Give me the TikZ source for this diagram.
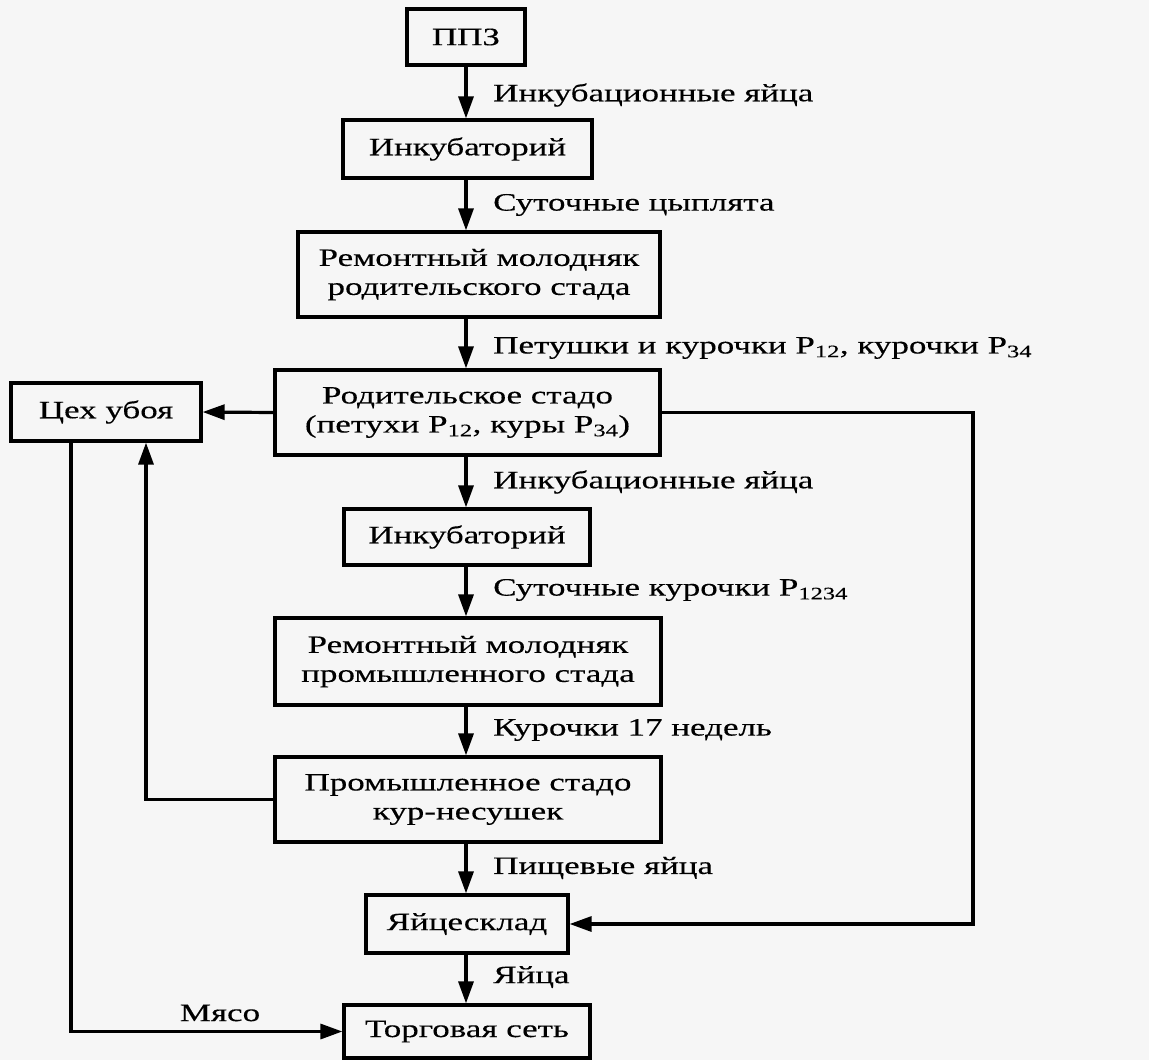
\documentclass[tikz,border=0pt]{standalone}
\usepackage{fontspec}
\setmainfont[FakeStretch=1.4,FakeBold=0.3]{Liberation Serif}
\usetikzlibrary{arrows.meta}
\begin{document}
\begin{tikzpicture}[x=1pt,y=-1pt,
  box/.style={draw=black, line width=3.2pt, align=center, inner sep=0pt,
    font=\fontsize{25}{29}\selectfont},
  lbl/.style={anchor=west, inner sep=0pt, font=\fontsize{25}{29}\selectfont},
  conn/.style={line width=3.2pt, -{Triangle[length=22pt,width=15pt]}}]
\fill[gray!7] (0,0) rectangle (1149,1060);
\useasboundingbox (0,0) rectangle (1149,1060);
\coordinate (ax) at (466,0);
\coordinate (rx) at (973,0);
\coordinate (lx1) at (146,0);
\coordinate (lx2) at (71,0);
% boxes
\node[box, minimum width=118pt, minimum height=56pt] (ppz) at (466,37) {ППЗ};
\node[box, minimum width=249pt, minimum height=58pt] (inc1) at (467.5,149) {Инкубаторий};
\node[box, minimum width=362pt, minimum height=85pt] (rem1) at (479,274.5) {Ремонтный молодняк\\родительского стада};
\node[box, minimum width=385pt, minimum height=85pt] (rod) at (467.5,412.5) {Родительское стадо\\(петухи P\textsubscript{12}, куры P\textsubscript{34})};
\node[box, minimum width=190pt, minimum height=58pt] (ceh) at (106,412) {Цех убоя};
\node[box, minimum width=246pt, minimum height=56pt] (inc2) at (467,537) {Инкубаторий};
\node[box, minimum width=386pt, minimum height=87pt] (rem2) at (468,661.5) {Ремонтный молодняк\\промышленного стада};
\node[box, minimum width=386pt, minimum height=85pt] (prom) at (468,799.5) {Промышленное стадо\\кур-несушек};
\node[box, minimum width=202pt, minimum height=58pt] (yay) at (467,924) {Яйцесклад};
\node[box, minimum width=246pt, minimum height=53pt] (torg) at (467,1031.5) {Торговая сеть};
% main chain
\draw[conn] (ppz.south) -- (inc1.north -| ax);
\draw[conn] (inc1.south -| ax) -- (rem1.north -| ax);
\draw[conn] (rem1.south -| ax) -- (rod.north -| ax);
\draw[conn] (rod.south -| ax) -- (inc2.north -| ax);
\draw[conn] (inc2.south -| ax) -- (rem2.north -| ax);
\draw[conn] (rem2.south -| ax) -- (prom.north -| ax);
\draw[conn] (prom.south -| ax) -- (yay.north -| ax);
\draw[conn] (yay.south -| ax) -- (torg.north -| ax);
% side connectors
\draw[conn] (rod.west) -- (ceh.east);
\draw[conn] (rod.east) -- (rod.east -| rx) |- (yay.east);
\draw[conn] (prom.west) -| (ceh.south -| lx1);
\draw[conn] (ceh.south -| lx2) |- (torg.west);
% labels
\node[lbl] (l1) at (493,95) {Инкубационные яйца};
\node[lbl] (l2) at (493,205) {Суточные цыплята};
\node[lbl] (l3) at (493,348) {Петушки и курочки P\textsubscript{12}, курочки P\textsubscript{34}};
\node[lbl] (l4) at (493,482) {Инкубационные яйца};
\node[lbl] (l5) at (493,590) {Суточные курочки P\textsubscript{1234}};
\node[lbl] (l6) at (493,730) {Курочки 17 недель};
\node[lbl] (l7) at (493,868) {Пищевые яйца};
\node[lbl] (l8) at (493,977) {Яйца};
\node[lbl, anchor=center] (l9) at (220,1013) {Мясо};
\end{tikzpicture}
\end{document}
